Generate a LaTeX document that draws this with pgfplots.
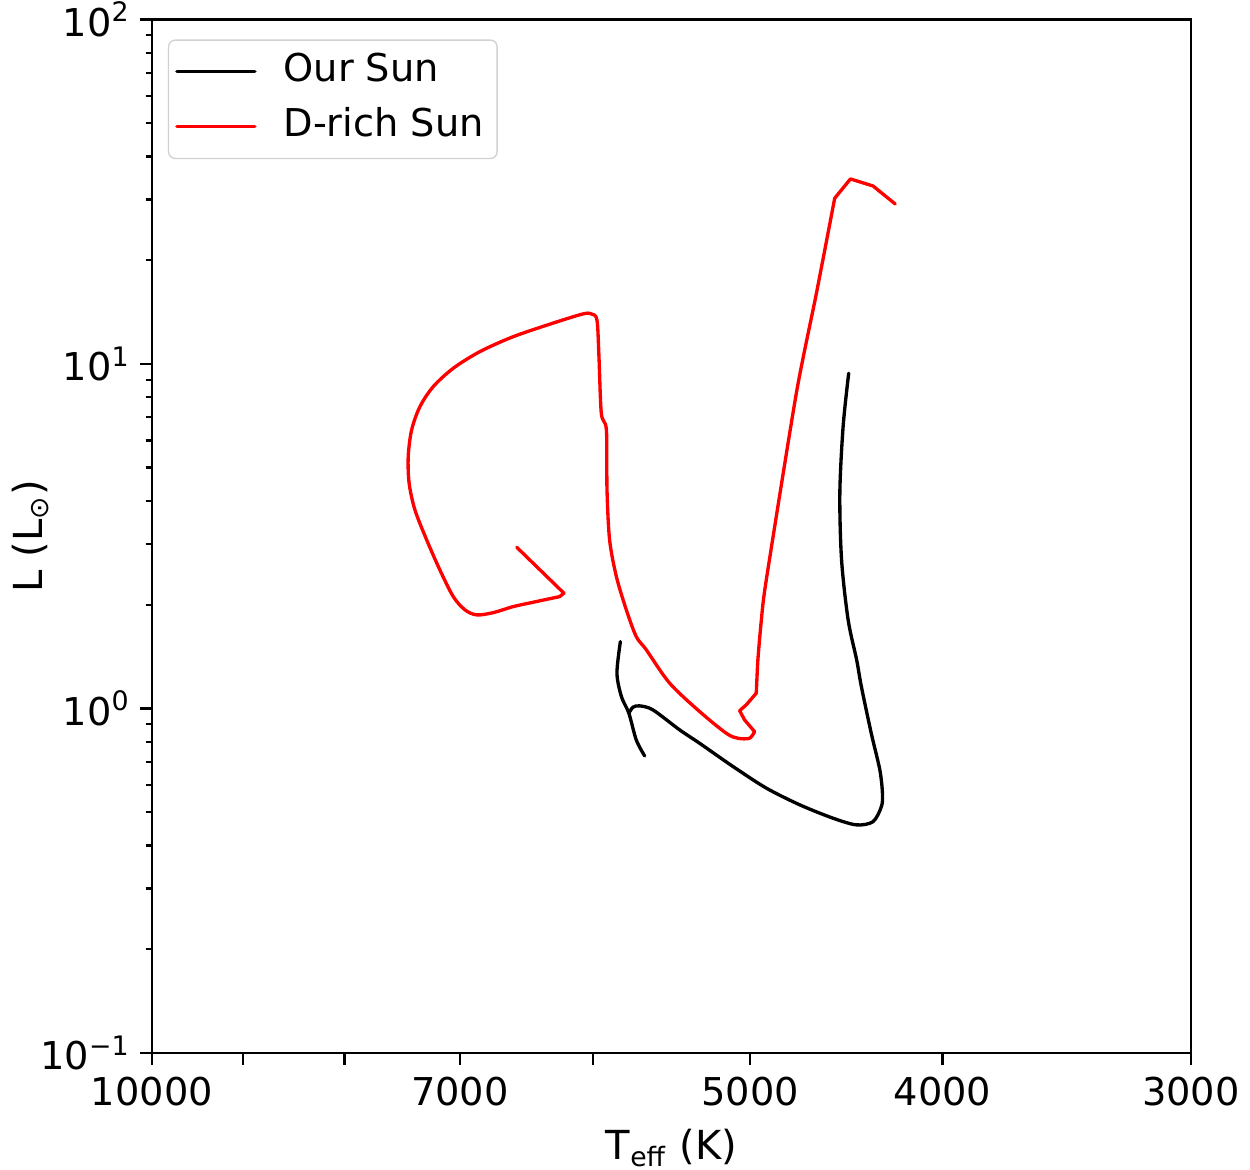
\documentclass[border=0pt]{standalone}
\usepackage{fontspec}
\setmainfont{DejaVu Sans}
\usepackage{pgfplots}
\pgfplotsset{compat=1.18}
\begin{document}
\begin{tikzpicture}
\begin{axis}[
  name=ax,
  scale only axis, width=311.7pt, height=310pt,
  xmode=log, ymode=log, x dir=reverse,
  xmin=3000, xmax=10000, ymin=0.1, ymax=100,
  xtick={10000,9000,8000,7000,6000,5000,4000,3000},
  xticklabels={10000,,,7000,,5000,4000,3000},
  minor xtick={},
  ytick={0.1,1,10,100},
  yticklabels={10\textsuperscript{−1},10\textsuperscript{0},10\textsuperscript{1},10\textsuperscript{2}},
  minor ytick={0.2,0.3,0.4,0.5,0.6,0.7,0.8,0.9,2,3,4,5,6,7,8,9,20,30,40,50,60,70,80,90},
  tick pos=left,
  tick align=outside,
  major tick length=3.6pt, minor tick length=1.9pt,
  every tick/.style={black, line width=0.7pt},
  axis line style={line width=0.7pt},
  font=\fontsize{11.5}{13}\selectfont,
  tick label style={font=\fontsize{11.5}{13}\selectfont},
  yticklabel style={xshift=0.7pt},
  xlabel={T\textsubscript{eff} (K)},
  ylabel={L (L\textsubscript{⊙})},
  xlabel style={at={(axis description cs:0.5,0)}, anchor=base, yshift=-32.1pt, font=\fontsize{12}{14}\selectfont},
  ylabel style={at={(axis description cs:-0.1165,0.5)}, anchor=center, font=\fontsize{12}{14}\selectfont},
  legend cell align=left,
  legend style={at={(0,1)}, anchor=north west, xshift=4.8pt, yshift=-6pt,
    draw=black!18, rounded corners=2pt, fill=white,
    inner xsep=2pt, inner ysep=2pt, row sep=1.5pt,
    font=\fontsize{11.5}{13}\selectfont,
    nodes={inner sep=2pt, text height=8.5pt, text depth=2.5pt}},
  legend image code/.code={\draw[#1] (0pt,0pt) -- (23.4pt,0pt); \path (29.5pt,0pt);},
  every axis plot/.append style={line width=1pt, line join=round, line cap=round},
]
% Our Sun (main track)
\addplot[black, smooth, tension=0.5] coordinates {
(4460,9.397)(4489,6.577)(4506,4.214)(4497,2.698)(4463,1.807)(4419,1.383)(4395,1.157)(4345,0.847)(4302,0.663)(4289,0.567)(4294,0.519)(4336,0.469)(4420,0.459)(4542,0.480)(4721,0.525)(4907,0.587)(5100,0.678)(5301,0.792)(5425,0.866)(5596,0.990)(5683,1.017)(5727,1.008)(5754,0.968)
};
\addlegendentry{Our Sun}
\addplot[black, smooth, tension=0.5, forget plot] coordinates {
(5811,1.563)(5834,1.265)(5804,1.082)(5754,0.968)(5705,0.810)(5650,0.728)
};
% D-rich Sun
\addplot[red] coordinates {
(6553,2.937)(6204,2.160)(6235,2.111)
};
\addlegendentry{D-rich Sun}
\addplot[red, smooth, tension=0.5, forget plot] coordinates {
(6235,2.111)(6406,2.042)(6579,1.975)(6733,1.897)(6864,1.868)(6958,1.932)(7053,2.111)(7163,2.523)(7274,3.084)(7374,3.770)(7423,4.505)(7431,5.382)(7402,6.433)(7331,7.516)(7219,8.593)(7053,9.716)(6838,10.86)(6579,12.00)(6284,13.13)(6069,13.97)(6010,13.97)(5971,13.42)(5957,10.50)(5941,7.193)(5906,6.433)(5902,4.308)(5884,3.084)(5838,2.413)(5771,1.932)(5705,1.616)(5639,1.479)(5489,1.184)(5301,0.979)(5140,0.847)(5071,0.819)(5003,0.819)(4974,0.856)
};
\addplot[red, forget plot] coordinates {
(4974,0.856)(5032,0.926)(5061,0.985)(5022,1.024)(4964,1.107)
};
\addplot[red, smooth, tension=0.4, forget plot] coordinates {
(4964,1.107)(4955,1.383)(4935,1.807)(4907,2.360)(4739,8.222)(4630,16.04)(4533,30.27)
};
\addplot[red, forget plot] coordinates {
(4533,30.27)(4451,34.44)(4336,32.86)(4226,29.13)
};
\end{axis}
\pgfresetboundingbox
\path ([xshift=-45.6pt,yshift=-35.1pt]ax.south west) rectangle ([xshift=17.7pt,yshift=5.85pt]ax.north east);
\end{tikzpicture}
\end{document}
